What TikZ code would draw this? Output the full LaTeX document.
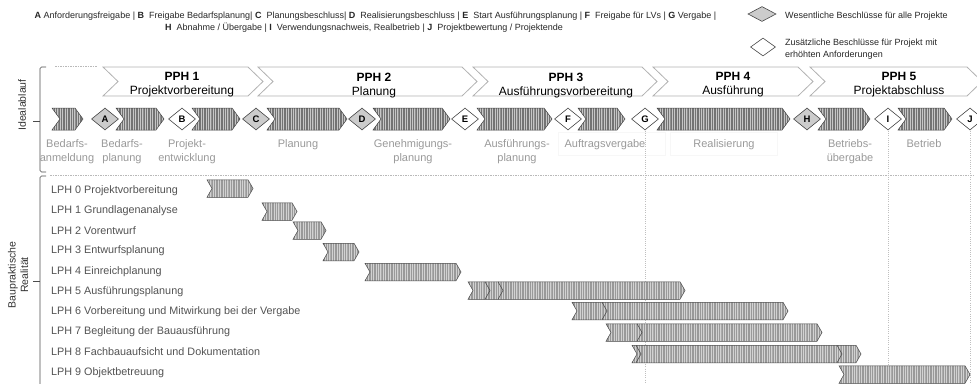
\documentclass[tikz,border=0pt]{standalone}
\usepackage{fontspec}
\setmainfont{Liberation Sans}
\usetikzlibrary{shapes.geometric,patterns.meta}

% chevron: [style] x-left, x-right, y-centre, half height, point depth
\newcommand{\chev}[6][]{%
  \draw[#1] (#2,#4-#5) -- (#3-#6,#4-#5) -- (#3,#4) -- (#3-#6,#4+#5)
    -- (#2,#4+#5) -- (#2+#6,#4) -- cycle;}
% inner chevron edge inside a bar: x of tip, y-centre, half height, depth
\newcommand{\chevmark}[4]{%
  \draw[barmark] (#1-#4,#2-#3) -- (#1,#2) -- (#1-#4,#2+#3);}

\begin{document}
\begin{tikzpicture}[x=1pt,y=-1pt,
  pph/.style={draw=gray!60, line width=0.8pt, fill=white},
  phase/.style={draw=gray!55!black, line width=0.5pt,
    preaction={fill=gray!45},
    pattern={Lines[angle=90,distance=1.7pt,line width=0.55pt]},
    pattern color=gray!90!black},
  lphbar/.style={draw=gray!55!black, line width=0.5pt,
    preaction={fill=gray!35},
    pattern={Lines[angle=90,distance=1.7pt,line width=0.5pt]},
    pattern color=gray!80},
  barmark/.style={draw=gray!50!black, line width=0.5pt},
  dia/.style={diamond, draw=gray!55!black, line width=0.6pt, inner sep=0pt,
    minimum width=27pt, minimum height=22pt,
    font=\fontsize{9.5}{9.5}\selectfont\bfseries},
  gdia/.style={dia, fill=gray!40},
  wdia/.style={dia, fill=white},
  proclbl/.style={anchor=north, inner sep=0pt, align=center, text=gray!80,
    font=\fontsize{11}{14}\selectfont},
  pphlbl/.style={anchor=north, inner sep=0pt, align=center,
    font=\fontsize{12}{14}\selectfont},
  lphlbl/.style={anchor=west, inner sep=0pt, text=black!68,
    font=\fontsize{10.8}{12}\selectfont},
  sidelbl/.style={rotate=90, inner sep=0pt, align=center, text=black!80,
    font=\fontsize{10.5}{12.5}\selectfont},
  legtxt/.style={inner sep=0pt, text=black!85,
    font=\fontsize{9}{12}\selectfont},
  bracket/.style={draw=gray!60!black, line width=0.6pt},
  sep/.style={draw=gray!55, line width=0.6pt, dash pattern=on 1.5pt off 1pt},
  guide/.style={draw=gray!50, line width=0.6pt, dash pattern=on 1pt off 1.2pt},
  faint/.style={draw=gray!6, line width=0.5pt}
]
\useasboundingbox (0,0) rectangle (977,383);
\clip (0,0) rectangle (977,383);

% ---------- legend ----------
\node[legtxt] (leg1) at (375.5,16) {\textbf{A} Anforderungsfreigabe | \textbf{B}\ \ Freigabe Bedarfsplanung| \textbf{C}\ \ Planungsbeschluss| \textbf{D}\ \ Realisierungsbeschluss | \textbf{E}\ \ Start Ausführungsplanung | \textbf{F}\ \ Freigabe für LVs | \textbf{G} Vergabe |};
\node[legtxt] (leg2) at (364,28) {\textbf{H}\ \ Abnahme / Übergabe | \textbf{I}\ \ Verwendungsnachweis, Realbetrieb | \textbf{J}\ \ Projektbewertung / Projektende};

\node[diamond, draw=gray!55!black, fill=gray!40, line width=0.6pt, inner sep=0pt,
      minimum width=28pt, minimum height=15pt] (legG) at (762,14) {};
\node[legtxt, anchor=west] (legGt) at (785,16) {Wesentliche Beschlüsse für alle Projekte};
\node[diamond, draw=gray!55!black, fill=white, line width=0.6pt, inner sep=0pt,
      minimum width=25pt, minimum height=18pt] (legW) at (763,47) {};
\node[legtxt, anchor=west, align=left] (legWt) at (785,49) {Zusätzliche Beschlüsse für Projekt mit\\erhöhten Anforderungen};

% ---------- side brackets ----------
\draw[bracket, rounded corners=1.5pt] (46,67) -- (40,67) -- (40,172) -- (46,172);
\draw[bracket] (33,121) -- (40,121);
\draw[bracket, rounded corners=1.5pt] (46,176) -- (40,176) -- (40,390);
\draw[bracket] (33,281) -- (40,281);
\node[sidelbl] (ideal) at (22,105) {Idealablauf};
\node[sidelbl] (bau) at (18,275) {Baupraktische\\Realität};

\draw[sep] (55,66) -- (97,66);
\draw[sep] (50,175) -- (975,175);

% ---------- project phases ----------
\chev[pph]{103}{263}{81.5}{14.5}{15}
\chev[pph]{258}{477}{81.5}{14.5}{15}
\chev[pph]{473}{657}{81.5}{14.5}{15}
\chev[pph]{653}{813}{81.5}{14.5}{15}
\chev[pph]{810}{982}{81.5}{14.5}{15}
\node[pphlbl] (pph1) at (182,72.5) {\textbf{PPH 1}\\Projektvorbereitung};
\node[pphlbl] (pph2) at (374,72.5) {\textbf{PPH 2}\\Planung};
\node[pphlbl] (pph3) at (566,72.5) {\textbf{PPH 3}\\Ausführungsvorbereitung};
\node[pphlbl] (pph4) at (733,72.5) {\textbf{PPH 4}\\Ausführung};
\node[pphlbl] (pph5) at (899,72.5) {\textbf{PPH 5}\\Projektabschluss};

% ---------- guides and faint label frames ----------
\draw[faint] (558,132) rectangle (665,155);
\draw[faint] (670,132) rectangle (777,155);
\draw[guide] (645,131) -- (645,383);
\draw[guide] (888,131) -- (888,383);
\draw[guide] (970,131) -- (970,383);

% ---------- ideal sequence ----------
\chev[phase]{52}{83}{119}{11}{8}
\chev[phase]{116}{164}{119}{11}{8}
\chev[phase]{192}{240}{119}{11}{8}
\chev[phase]{267}{347}{119}{11}{8}
\chev[phase]{373}{450}{119}{11}{8}
\chev[phase]{477}{552}{119}{11}{8}
\chev[phase]{578}{625}{119}{11}{8}
\chev[phase]{657}{790}{119}{11}{8}
\chev[phase]{818}{870}{119}{11}{8}
\chev[phase]{898}{952}{119}{11}{8}

\node[gdia] (A) at (105,119) {A};
\node[wdia] (B) at (182,119) {B};
\node[gdia] (C) at (256,119) {C};
\node[gdia] (D) at (362,119) {D};
\node[wdia] (E) at (465,119) {E};
\node[wdia] (F) at (568,119) {F};
\node[wdia] (G) at (645,119) {G};
\node[gdia] (H) at (807,119) {H};
\node[wdia] (I) at (888,119) {I};
\node[wdia] (J) at (970,119) {J};

\node[proclbl] (p1) at (67,139.5) {Bedarfs-\\anmeldung};
\node[proclbl] (p2) at (122,139.5) {Bedarfs-\\planung};
\node[proclbl] (p3) at (187,139.5) {Projekt-\\entwicklung};
\node[proclbl] (p4) at (298,139.5) {Planung};
\node[proclbl] (p5) at (413,139.5) {Genehmigungs-\\planung};
\node[proclbl] (p6) at (517,139.5) {Ausführungs-\\planung};
\node[proclbl] (p7) at (605,139.5) {Auftragsvergabe};
\node[proclbl] (p8) at (724,139.5) {Realisierung};
\node[proclbl] (p9) at (850,139.5) {Betriebs-\\übergabe};
\node[proclbl] (p10) at (924,139.5) {Betrieb};

% ---------- service phases ----------
\node[lphlbl] (l0) at (51,190.5) {LPH 0 Projektvorbereitung};
\node[lphlbl] (l1) at (51,210.7) {LPH 1 Grundlagenanalyse};
\node[lphlbl] (l2) at (51,230.9) {LPH 2 Vorentwurf};
\node[lphlbl] (l3) at (51,251.1) {LPH 3 Entwurfsplanung};
\node[lphlbl] (l4) at (51,271.3) {LPH 4 Einreichplanung};
\node[lphlbl] (l5) at (51,291.5) {LPH 5 Ausführungsplanung};
\node[lphlbl] (l6) at (51,311.7) {LPH 6 Vorbereitung und Mitwirkung bei der Vergabe};
\node[lphlbl] (l7) at (51,331.9) {LPH 7 Begleitung der Bauausführung};
\node[lphlbl] (l8) at (51,352.1) {LPH 8 Fachbauaufsicht und Dokumentation};
\node[lphlbl] (l9) at (51,372.3) {LPH 9 Objektbetreuung};

\chev[lphbar]{207}{253}{188.5}{8.75}{5}
\chev[lphbar]{262}{297}{211.5}{8.75}{5}
\chev[lphbar]{293}{326}{230.5}{8.75}{5}
\chev[lphbar]{323}{359}{252}{8.75}{5}
\chev[lphbar]{365}{461}{272}{8.75}{5}
\chev[lphbar]{468}{685}{290.5}{8.75}{5}
\chevmark{490}{290.5}{8.75}{5}
\chevmark{503}{290.5}{8.75}{5}
\chev[lphbar]{572}{788}{311}{8.75}{5}
\chevmark{607}{311}{8.75}{5}
\chev[lphbar]{606}{822}{332.5}{8.75}{5}
\chevmark{642}{332.5}{8.75}{5}
\chev[lphbar]{632}{861}{354}{8.75}{5}
\chevmark{641}{354}{8.75}{5}
\chevmark{842}{354}{8.75}{5}
\chev[lphbar]{839}{970}{374.5}{8.75}{5}
\end{tikzpicture}
\end{document}
